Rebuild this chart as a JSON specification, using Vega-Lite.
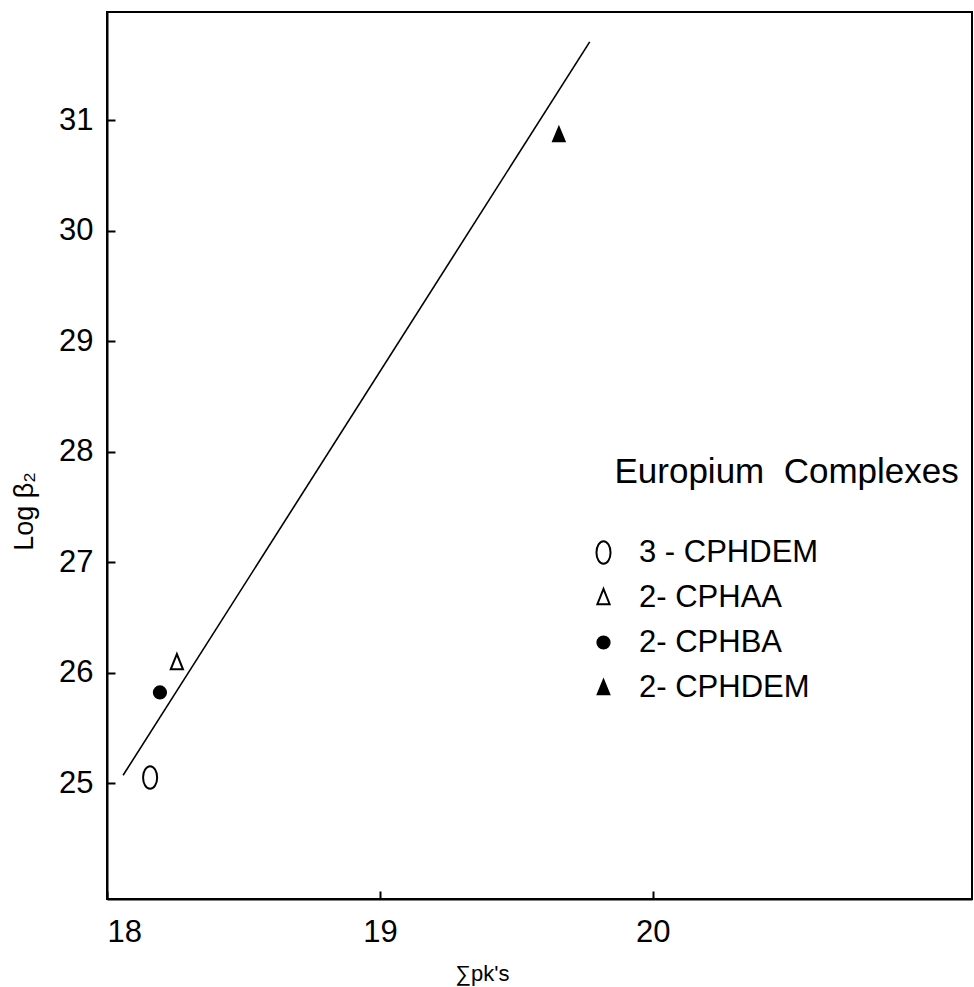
{
  "$schema": "https://vega.github.io/schema/vega-lite/v6.json",
  "autosize": "none",
  "width": 865,
  "height": 887,
  "padding": {"left": 107, "top": 12, "right": 2, "bottom": 88},
  "background": "white",
  "config": {
    "view": {"stroke": "black", "strokeWidth": 2},
    "axis": {
      "domainColor": "black", "domainWidth": 2,
      "tickColor": "black", "tickWidth": 2, "tickSize": -8,
      "grid": false, "format": "d",
      "labelFont": "Liberation Sans", "labelFontSize": 31, "labelColor": "black",
      "titleColor": "black", "titleFontWeight": "normal"
    },
    "legend": {
      "orient": "none", "legendX": 481, "legendY": 443, "padding": 0,
      "titleFont": "Liberation Sans", "titleFontSize": 35, "titleFontWeight": "normal", "titleColor": "black",
      "titlePadding": 47, "titleLimit": 600,
      "labelFont": "Liberation Sans", "labelFontSize": 31, "labelColor": "black", "labelLimit": 600,
      "labelOffset": 20, "rowPadding": 13,
      "symbolSize": 150, "symbolStrokeWidth": 2
    }
  },
  "datasets": {
    "points": [
      {"compound": "3 - CPHDEM", "spk": 18.158, "logb2": 25.05},
      {"compound": "2- CPHAA", "spk": 18.256, "logb2": 26.09},
      {"compound": "2- CPHBA", "spk": 18.194, "logb2": 25.82},
      {"compound": "2- CPHDEM", "spk": 19.656, "logb2": 30.87}
    ],
    "fit": [
      {"spk": 18.059, "logb2": 25.07},
      {"spk": 19.769, "logb2": 31.71}
    ]
  },
  "layer": [
    {
      "data": {"name": "fit"},
      "mark": {"type": "line", "color": "black", "strokeWidth": 1.6},
      "encoding": {
        "x": {"field": "spk", "type": "quantitative"},
        "y": {"field": "logb2", "type": "quantitative"}
      }
    },
    {
      "data": {"name": "points"},
      "mark": {"type": "point", "strokeWidth": 2, "opacity": 1, "size": 150},
      "encoding": {
        "x": {
          "field": "spk", "type": "quantitative",
          "scale": {"domain": [18, 21.17], "zero": false, "nice": false},
          "axis": {
            "values": [18, 19, 20], "labelFlush": true, "labelPadding": 26,
            "title": "∑pk's", "titleFont": "Liberation Sans", "titleFontSize": 22,
            "titleX": 375, "titleY": 74, "titleBaseline": "middle", "titleAlign": "center"
          }
        },
        "y": {
          "field": "logb2", "type": "quantitative",
          "scale": {"domain": [23.95, 31.98], "zero": false, "nice": false},
          "axis": {
            "values": [25, 26, 27, 28, 29, 30, 31], "labelPadding": 22,
            "title": "Log β₂", "titleFont": "Liberation Sans", "titleFontSize": 27,
            "titleX": -69, "titleY": 499, "titleBaseline": "bottom", "titleAlign": "center", "titleAngle": -90
          }
        },
        "shape": {
          "field": "compound", "type": "nominal",
          "scale": {
            "domain": ["3 - CPHDEM", "2- CPHAA", "2- CPHBA", "2- CPHDEM"],
            "range": [
              "M0,-1.85C0.635,-1.85 1.15,-1.022 1.15,0C1.15,1.022 0.635,1.85 0,1.85C-0.635,1.85 -1.15,1.022 -1.15,0C-1.15,-1.022 -0.635,-1.85 0,-1.85Z",
              "M0,-1.4L-1,1.1L1,1.1Z",
              "circle",
              "M0,-1.2L-0.95,1.1L0.95,1.1Z"
            ]
          },
          "legend": {"title": "\u200b\u00a0\u00a0\u2009Europium\u00a0 Complexes"}
        },
        "fill": {
          "field": "compound", "type": "nominal",
          "scale": {
            "domain": ["3 - CPHDEM", "2- CPHAA", "2- CPHBA", "2- CPHDEM"],
            "range": ["transparent", "transparent", "black", "black"]
          },
          "legend": {"title": "\u200b\u00a0\u00a0\u2009Europium\u00a0 Complexes"}
        },
        "stroke": {
          "field": "compound", "type": "nominal",
          "scale": {
            "domain": ["3 - CPHDEM", "2- CPHAA", "2- CPHBA", "2- CPHDEM"],
            "range": ["black", "black", "black", "black"]
          },
          "legend": {"title": "\u200b\u00a0\u00a0\u2009Europium\u00a0 Complexes"}
        }
      }
    }
  ]
}
